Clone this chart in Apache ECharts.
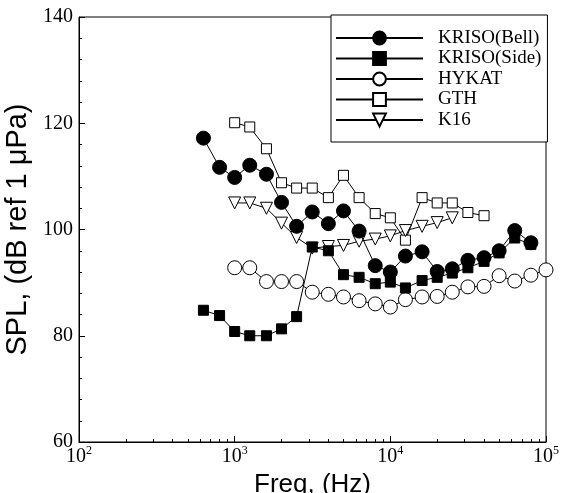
<!DOCTYPE html>
<html>
<head>
<meta charset="utf-8">
<script src="https://cdn.jsdelivr.net/npm/echarts@6/dist/echarts.min.js"></script>
<style>
  html, body { margin: 0; padding: 0; background: #fff; }
  #chart { width: 566px; height: 493px; }
</style>
</head>
<body>
<div id="chart"></div>
<script>
// 1/3 octave band centre frequencies (Hz)
var bands = [630, 800, 1000, 1250, 1600, 2000, 2500, 3150, 4000, 5000, 6300, 8000,
  10000, 12500, 16000, 20000, 25000, 31500, 40000, 50000, 63000, 80000, 100000];

var krisoBell = [117.2, 111.7, 109.8, 112.1, 110.4, 105.1, 100.6, 103.3, 101.1, 103.5, 99.7, 93.2,
  92.0, 95.0, 95.8, 92.1, 92.6, 94.2, 94.7, 96.0, 99.8, 97.5];
var krisoSide = [84.8, 83.8, 80.8, 80.0, 80.0, 81.3, 83.6, 96.7, 96.0, 91.5, 91.0, 89.8,
  90.1, 89.0, 90.4, 91.0, 91.8, 92.8, 94.0, 95.6, 98.4, 97.2];
// these start at 1000 Hz
var hykat = [92.8, 92.8, 90.2, 90.2, 90.2, 88.2, 87.8, 87.3, 86.6, 86.0,
  85.4, 86.8, 87.3, 87.4, 88.2, 89.2, 89.3, 91.3, 90.3, 91.4, 92.4];
var gth = [120.1, 119.3, 115.2, 108.8, 107.8, 107.8, 106.0, 110.2, 106.0, 103.0,
  102.2, 98.0, 106.0, 105.0, 105.0, 103.2, 102.6];
var k16 = [105.0, 105.0, 104.0, 101.2, 98.5, 96.5, 96.8, 97.0, 97.8, 98.2,
  98.8, 99.8, 100.6, 101.3, 102.2];

var yTicks = [60, 80, 100, 120, 140];
var xDecades = [100, 1000, 10000, 100000];

// log minor ticks 2..9 in every decade
var xMinor = [];
xDecades.slice(0, -1).forEach(function (d) {
  for (var k = 2; k <= 9; k++) xMinor.push(d * k);
});

function pairs(startFreq, vals) {
  var i0 = bands.indexOf(startFreq);
  return vals.map(function (v, i) { return [bands[i0 + i], v]; });
}

var serif = '"Liberation Serif", "DejaVu Serif", serif';
var sans = '"Liberation Sans", Arial, sans-serif';

function mkSeries(name, data, symbol, size, filled, rotate) {
  return {
    name: name,
    type: 'line',
    data: data,
    symbol: symbol,
    symbolSize: size,
    symbolRotate: rotate || 0,
    showAllSymbol: true,
    lineStyle: { color: '#000', width: 1 },
    itemStyle: { color: filled ? '#000' : '#fff', borderColor: '#000', borderWidth: 1 },
    emphasis: { disabled: true },
    z: filled ? 3 : 2
  };
}

var myChart = echarts.init(document.getElementById('chart'));
var option = {
  backgroundColor: '#fff',
  animation: false,
  grid: {
    left: 79, right: 20, top: 17, bottom: 51,
    outerBoundsMode: 'none', containLabel: false,
    show: true, borderColor: '#000', borderWidth: 1
  },
  legend: {
    orient: 'vertical',
    left: 331,
    top: 15,
    padding: [13.5, 6, 12.5, 4],
    itemGap: 1.5,
    itemWidth: 87,
    itemHeight: 16,
    borderColor: '#000',
    borderWidth: 1,
    backgroundColor: '#fff',
    textStyle: { fontFamily: serif, fontSize: 19, color: '#000', padding: [0, 0, 0, 10] },
    data: ['KRISO(Bell)', 'KRISO(Side)', 'HYKAT', 'GTH', 'K16']
  },
  xAxis: [{
    type: 'log',
    logBase: 10,
    min: xDecades[0],
    max: xDecades[xDecades.length - 1],
    name: 'Freq, (Hz)',
    nameLocation: 'middle',
    nameGap: 19,
    nameTextStyle: { fontFamily: sans, fontSize: 26, color: '#000' },
    axisLine: { lineStyle: { color: '#000', width: 1 } },
    axisTick: { inside: true, length: 6, lineStyle: { color: '#000' } },
    splitLine: { show: false },
    axisLabel: {
      margin: 3,
      formatter: function (v) {
        return '{b|10}{s|' + Math.round(Math.log10(v)) + '}';
      },
      rich: {
        b: { fontFamily: serif, fontSize: 20, color: '#000' },
        s: { fontFamily: serif, fontSize: 12, color: '#000', padding: [0, 0, 11, 0] }
      }
    }
  }, {
    type: 'log',
    logBase: 10,
    min: xDecades[0],
    max: xDecades[xDecades.length - 1],
    position: 'bottom',
    axisLine: { show: false },
    axisLabel: { show: false },
    splitLine: { show: false },
    axisTick: { inside: true, length: 3, customValues: xMinor, lineStyle: { color: '#000' } }
  }],
  yAxis: {
    type: 'value',
    min: yTicks[0],
    max: yTicks[yTicks.length - 1],
    interval: 20,
    name: 'SPL, (dB ref 1 \u03bcPa)',
    nameLocation: 'middle',
    nameGap: 44,
    nameTextStyle: { fontFamily: sans, fontSize: 29, color: '#000' },
    axisLine: { show: true, lineStyle: { color: '#000', width: 1 } },
    axisTick: { inside: true, length: 6, lineStyle: { color: '#000' } },
    minorTick: { show: true, splitNumber: 5, length: 3, lineStyle: { color: '#000' } },
    splitLine: { show: false },
    axisLabel: { fontFamily: serif, fontSize: 20, color: '#000', margin: 6 }
  },
  series: [
    mkSeries('KRISO(Bell)', pairs(630, krisoBell), 'circle', 14, true),
    mkSeries('KRISO(Side)', pairs(630, krisoSide), 'rect', 10, true),
    mkSeries('HYKAT', pairs(1000, hykat), 'circle', 14, false),
    mkSeries('GTH', pairs(1000, gth), 'rect', 10, false),
    mkSeries('K16', pairs(1000, k16), 'triangle', 12, false, 180)
  ]
};
myChart.setOption(option);
</script>
</body>
</html>
